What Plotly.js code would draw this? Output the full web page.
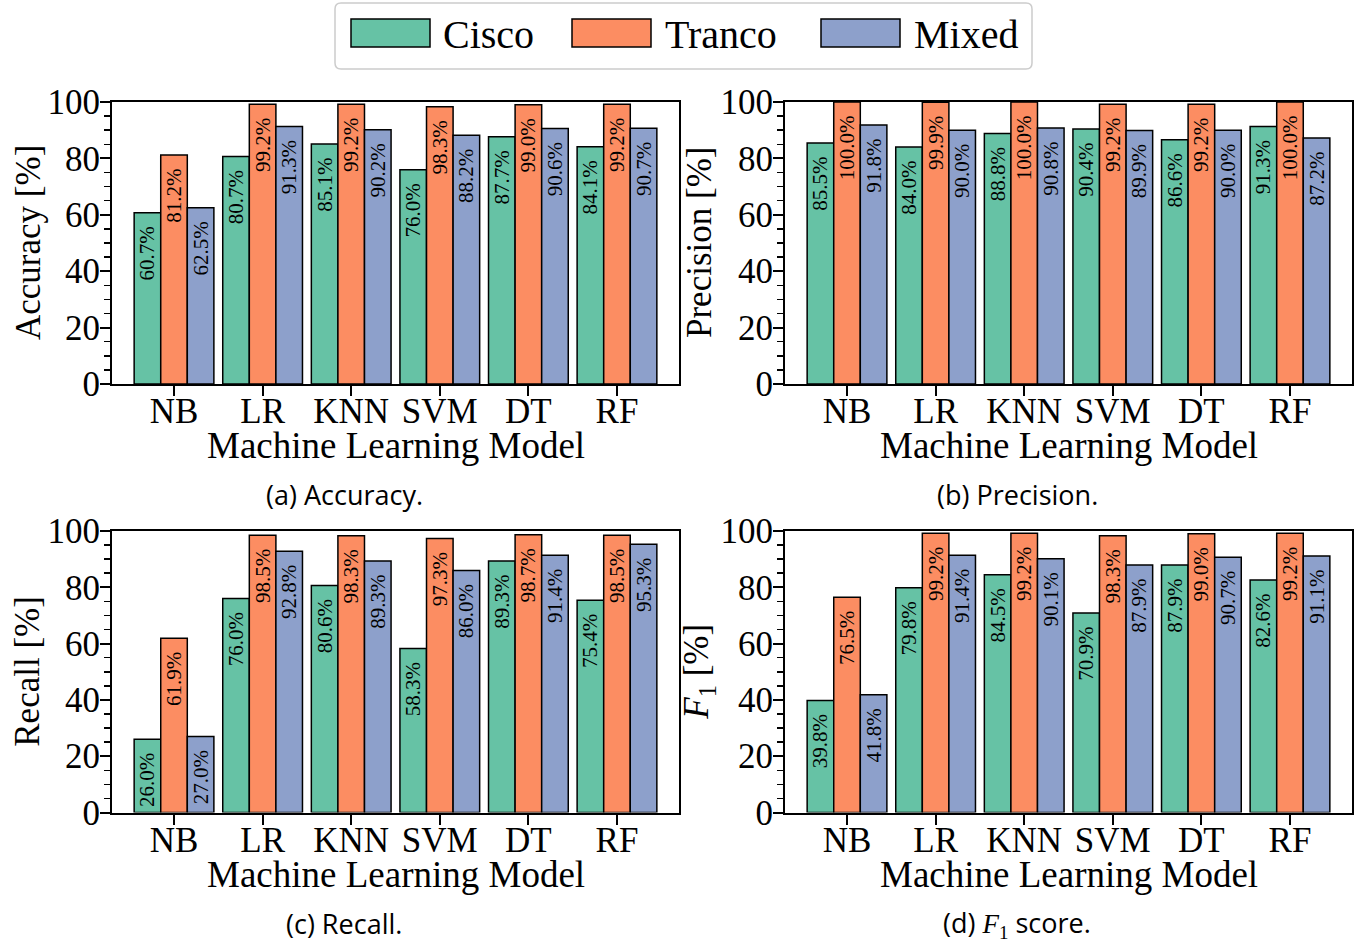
<!DOCTYPE html>
<html>
<head>
<meta charset="utf-8">
<script src="https://cdn.plot.ly/plotly-3.0.1.min.js"></script>
<style>html,body{margin:0;padding:0;background:#fff;}#chart{width:1362px;height:942px;}</style>
</head>
<body>
<div id="chart"></div>
<script>
// ---- data ----
const models = ['NB', 'LR', 'KNN', 'SVM', 'DT', 'RF'];
const seriesNames = ['Cisco', 'Tranco', 'Mixed'];
const seriesColors = ['#66c2a5', '#fc8d62', '#8da0cb'];

const accuracyCisco  = [60.7, 80.7, 85.1, 76.0, 87.7, 84.1];
const accuracyTranco = [81.2, 99.2, 99.2, 98.3, 99.0, 99.2];
const accuracyMixed  = [62.5, 91.3, 90.2, 88.2, 90.6, 90.7];

const precisionCisco  = [85.5, 84.0, 88.8, 90.4, 86.6, 91.3];
const precisionTranco = [100.0, 99.9, 100.0, 99.2, 99.2, 100.0];
const precisionMixed  = [91.8, 90.0, 90.8, 89.9, 90.0, 87.2];

const recallCisco  = [26.0, 76.0, 80.6, 58.3, 89.3, 75.4];
const recallTranco = [61.9, 98.5, 98.3, 97.3, 98.7, 98.5];
const recallMixed  = [27.0, 92.8, 89.3, 86.0, 91.4, 95.3];

const f1Cisco  = [39.8, 79.8, 84.5, 70.9, 87.9, 82.6];
const f1Tranco = [76.5, 99.2, 99.2, 98.3, 99.0, 99.2];
const f1Mixed  = [41.8, 91.4, 90.1, 87.9, 90.7, 91.1];

const yTitles = ['Accuracy [%]', 'Precision [%]', 'Recall [%]',
  '<i>F</i><sub>1</sub> [%]'];
const captions = ['(a) Accuracy.', '(b) Precision.', '(c) Recall.',
  '(d) <span style="font-family:Liberation Serif;font-style:italic">F</span><sub><span style="font-family:Liberation Serif">1</span></sub> score.'];
const xTitle = 'Machine Learning Model';

// ---- build ----
const W = 1362, H = 942;
const px = v => v / W;
const py = v => 1 - v / H;
const SERIF = "Liberation Serif";
const SANS = "Open Sans";

const panels = [
  [accuracyCisco, accuracyTranco, accuracyMixed],
  [precisionCisco, precisionTranco, precisionMixed],
  [recallCisco, recallTranco, recallMixed],
  [f1Cisco, f1Tranco, f1Mixed]
];

const traces = [];
panels.forEach((series, p) => {
  const sfx = p === 0 ? '' : String(p + 1);
  series.forEach((vals, s) => {
    traces.push({
      type: 'bar', x: models, y: vals, name: seriesNames[s],
      xaxis: 'x' + sfx, yaxis: 'y' + sfx, showlegend: false,
      marker: {color: seriesColors[s], line: {color: '#000', width: 1.5}},
      texttemplate: '%{y:.1f}%\u00a0\u00a0',
      textposition: 'inside', insidetextanchor: 'end', textangle: -90,
      constraintext: 'none', cliponaxis: true,
      insidetextfont: {family: SERIF, size: 21, color: '#000'},
      hoverinfo: 'x+y'
    });
  });
});

const xDomains = [[112, 679], [785, 1352]];
const yDomains = [[102, 384], [531, 812.5]];

const layout = {
  width: W, height: H, margin: {l: 0, r: 0, t: 0, b: 0},
  paper_bgcolor: '#fff', plot_bgcolor: '#fff',
  barmode: 'group', bargap: 0.1, bargroupgap: 0,
  showlegend: false,
  font: {family: SERIF, color: '#000'},
  shapes: [], annotations: []
};

for (let p = 0; p < 4; p++) {
  const sfx = p === 0 ? '' : String(p + 1);
  const xd = xDomains[p % 2], yd = yDomains[Math.floor(p / 2)];
  layout['xaxis' + sfx] = {
    domain: [px(xd[0]), px(xd[1])], anchor: 'y' + sfx,
    type: 'category', range: [-0.7, 5.7],
    showline: true, linewidth: 2, linecolor: '#000', mirror: true,
    ticks: 'outside', ticklen: 10, tickwidth: 2, tickcolor: '#000',
    ticklabelstandoff: -15,
    tickfont: {family: SERIF, size: 35, color: '#000'},
    showgrid: false, zeroline: false, automargin: false
  };
  layout['yaxis' + sfx] = {
    domain: [py(yd[1]), py(yd[0])], anchor: 'x' + sfx,
    range: [0, 100], tick0: 0, dtick: 20,
    showline: true, linewidth: 2, linecolor: '#000', mirror: true,
    ticks: 'outside', ticklen: 10, tickwidth: 2, tickcolor: '#000',
    ticklabelstandoff: -7,
    minor: {dtick: 5, ticks: 'outside', ticklen: 6, tickwidth: 1.5, tickcolor: '#000', showgrid: false},
    tickfont: {family: SERIF, size: 35, color: '#000'},
    showgrid: false, zeroline: false, automargin: false
  };
  const left = p % 2 === 0;
  const top = p < 2;
  // x-axis title
  layout.annotations.push({
    xref: 'paper', yref: 'paper', x: px((xd[0] + xd[1]) / 2), y: py(top ? 445 : 874),
    xanchor: 'center', yanchor: 'middle', text: xTitle, showarrow: false,
    font: {family: SERIF, size: 37, color: '#000'}
  });
  // y-axis title
  layout.annotations.push({
    xref: 'paper', yref: 'paper', x: px(left ? 28 : 699), y: py((yd[0] + yd[1]) / 2),
    xanchor: 'center', yanchor: 'middle', textangle: -90, text: yTitles[p], showarrow: false,
    font: {family: SERIF, size: 35, color: '#000'}
  });
  // caption
  layout.annotations.push({
    xref: 'paper', yref: 'paper', x: px(left ? 344 : 1017), y: py(top ? 494 : 923),
    xanchor: 'center', yanchor: 'middle',
    text: captions[p], showarrow: false, font: {family: SANS, size: 27, color: '#000'}
  });
}

// custom legend (large swatches like the reference)
const r = 6, bx0 = 335, bx1 = 1032, by0 = 3, by1 = 69;
layout.shapes.push({
  type: 'path', xref: 'paper', yref: 'paper',
  path: `M${px(bx0 + r)},${py(by0)} L${px(bx1 - r)},${py(by0)} Q${px(bx1)},${py(by0)} ${px(bx1)},${py(by0 + r)} ` +
        `L${px(bx1)},${py(by1 - r)} Q${px(bx1)},${py(by1)} ${px(bx1 - r)},${py(by1)} ` +
        `L${px(bx0 + r)},${py(by1)} Q${px(bx0)},${py(by1)} ${px(bx0)},${py(by1 - r)} ` +
        `L${px(bx0)},${py(by0 + r)} Q${px(bx0)},${py(by0)} ${px(bx0 + r)},${py(by0)} Z`,
  line: {color: '#cccccc', width: 1.5}, fillcolor: 'rgba(255,255,255,0.9)'
});
const swatchX = [351, 572, 821], textX = [441, 663, 912];
seriesNames.forEach((n, i) => {
  layout.shapes.push({
    type: 'rect', xref: 'paper', yref: 'paper',
    x0: px(swatchX[i]), x1: px(swatchX[i] + 79), y0: py(47), y1: py(19),
    fillcolor: seriesColors[i], line: {color: '#000', width: 1.5}
  });
  layout.annotations.push({
    xref: 'paper', yref: 'paper', x: px(textX[i]), y: py(35), xanchor: 'left', yanchor: 'middle',
    text: n, showarrow: false, font: {family: SERIF, size: 40, color: '#000'}
  });
});

Plotly.newPlot('chart', traces, layout, {displayModeBar: false, staticPlot: true});
</script>
</body>
</html>
